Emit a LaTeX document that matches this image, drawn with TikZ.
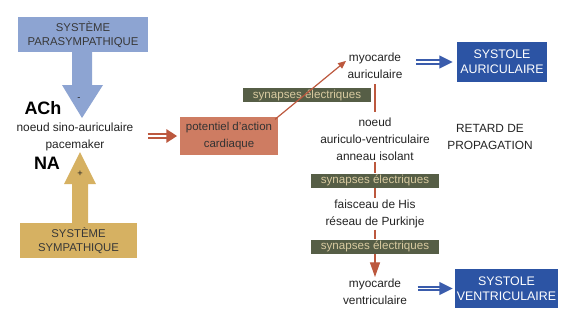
\documentclass[tikz,border=0pt]{standalone}
\usepackage{tikz}
\usepackage{fontspec}
\setmainfont{Liberation Sans}
\usetikzlibrary{arrows.meta}

\definecolor{paraBlue}{RGB}{141,164,210}
\definecolor{sympaTan}{RGB}{214,177,98}
\definecolor{potSalmon}{RGB}{206,124,98}
\definecolor{arrowRed}{RGB}{188,88,62}
\definecolor{synOlive}{RGB}{86,94,70}
\definecolor{synText}{RGB}{216,202,160}
\definecolor{systBlue}{RGB}{44,84,164}
\definecolor{dblBlue}{RGB}{58,92,172}
\definecolor{txtGrey}{RGB}{35,35,35}

\begin{document}
\begin{tikzpicture}[x=0.75pt,y=0.75pt,yscale=-1,xscale=1,
    txt/.style={text=txtGrey,font=\fontsize{8.9}{12.75}\selectfont,align=center,inner sep=1pt},
    boldtxt/.style={text=black,font=\fontsize{13.5}{15}\selectfont\bfseries,inner sep=0pt},
    sysbox/.style={fill=#1,text=black!78,font=\fontsize{8.5}{10.5}\selectfont,align=center,inner sep=0pt},
    potbox/.style={fill=potSalmon,text=black!80,font=\fontsize{8.6}{12.75}\selectfont,align=center,inner sep=0pt,minimum width=73.5pt,minimum height=28.5pt},
    synbox/.style={fill=synOlive,text=synText,font=\fontsize{8.7}{10}\selectfont,minimum width=96pt,minimum height=10.5pt,inner sep=0pt},
    systole/.style={fill=systBlue,text=white,font=\fontsize{9.3}{11.25}\selectfont,align=center,inner sep=0pt},
    link/.style={draw=arrowRed,line width=0.9pt},
    dblred/.style={draw=arrowRed,double=white,double distance=1.4pt,line width=1.4pt,-{Triangle[length=8pt,width=10pt]}},
    dblblue/.style={draw=dblBlue,double=white,double distance=1.4pt,line width=1.4pt,-{Triangle[length=10pt,width=9.5pt]}}
  ]
    \useasboundingbox (0,0) rectangle (562,326);

    %Shape: Rectangle [parasympathique]
    \node[sysbox=paraBlue,minimum width=97.5pt,minimum height=26.25pt] (para) at (83,34.5) {SYSTÈME\\PARASYMPATHIQUE};
    %Shape: Arrow
    \fill[paraBlue] (72,50) -- (72,85) -- (62,85) -- (82,118) -- (103,85) -- (92,85) -- (92,50) -- cycle;
    \node[text=txtGrey,font=\fontsize{7}{8}\selectfont,inner sep=0pt] (moins) at (79,99) {-};

    %Shape: Rectangle [sympathique]
    \node[sysbox=sympaTan,minimum width=87.75pt,minimum height=26.25pt] (sympa) at (78.5,240.5) {SYSTÈME\\SYMPATHIQUE};
    %Shape: Arrow
    \fill[sympaTan] (72,225) -- (72,184) -- (64,184) -- (80,152) -- (96,184) -- (88,184) -- (88,225) -- cycle;
    \node[text=txtGrey,font=\fontsize{7}{8}\selectfont,inner sep=0pt] (plus) at (80,174) {+};

    %Text
    \node[boldtxt] (ach) at (43,108) {ACh};
    \node[boldtxt] (na) at (47,163) {NA};
    \node[txt] (sino) at (75,136.5) {noeud sino-auriculaire\\pacemaker};

    %Shape: Rectangle [potentiel]
    \node[potbox] (pot) at (229,136) {potentiel d'action\\cardiaque};

    %Shape: Rectangle [synapses]
    \node[synbox] (syn1) at (307,95) {synapses électriques};
    \node[synbox] (syn2) at (375,180.5) {synapses électriques};
    \node[synbox] (syn3) at (375,246.5) {synapses électriques};

    %Text
    \node[txt] (myoA) at (375,66) {myocarde\\auriculaire};
    \node[txt] (nav) at (375,139) {noeud\\auriculo-ventriculaire\\anneau isolant};
    \node[txt] (his) at (375,214) {faisceau de His\\réseau de Purkinje};
    \node[txt] (myoV) at (375,291.5) {myocarde\\ventriculaire};
    \node[txt] (retard) at (490,136.5) {RETARD DE\\PROPAGATION};

    %Shape: Rectangle [systoles]
    \node[systole,minimum width=67.5pt,minimum height=30pt] (sysA) at (502,62) {SYSTOLE\\AURICULAIRE};
    \node[systole,minimum width=77.25pt,minimum height=29.25pt] (sysV) at (506.5,288.5) {SYSTOLE\\VENTRICULAIRE};

    %Straight Lines
    \draw[dblred] ([xshift=9.5pt]sino.east |- pot.west) -- ([xshift=-2pt]pot.west);
    \draw[link,-{Triangle[length=6pt,width=5pt]}] ([xshift=-2.5pt,yshift=2pt]pot.north east) -- (myoA.170);
    \draw[link] ([yshift=3pt]myoA.south) -- ([yshift=-3pt]nav.north);
    \draw[link] (nav.south) -- (syn2.north);
    \draw[link] (syn2.south) -- (his.north);
    \draw[link] (his.south) -- (syn3.north);
    \draw[link,-{Triangle[length=11pt,width=7.5pt]}] (syn3.south) -- (myoV.north);
    \draw[dblblue] ([xshift=9pt]myoA.east |- sysA.west) -- ([xshift=-3pt]sysA.west);
    \draw[dblblue] ([xshift=6.75pt]myoV.east |- sysV.west) -- ([xshift=-1.5pt]sysV.west);
\end{tikzpicture}
\end{document}
